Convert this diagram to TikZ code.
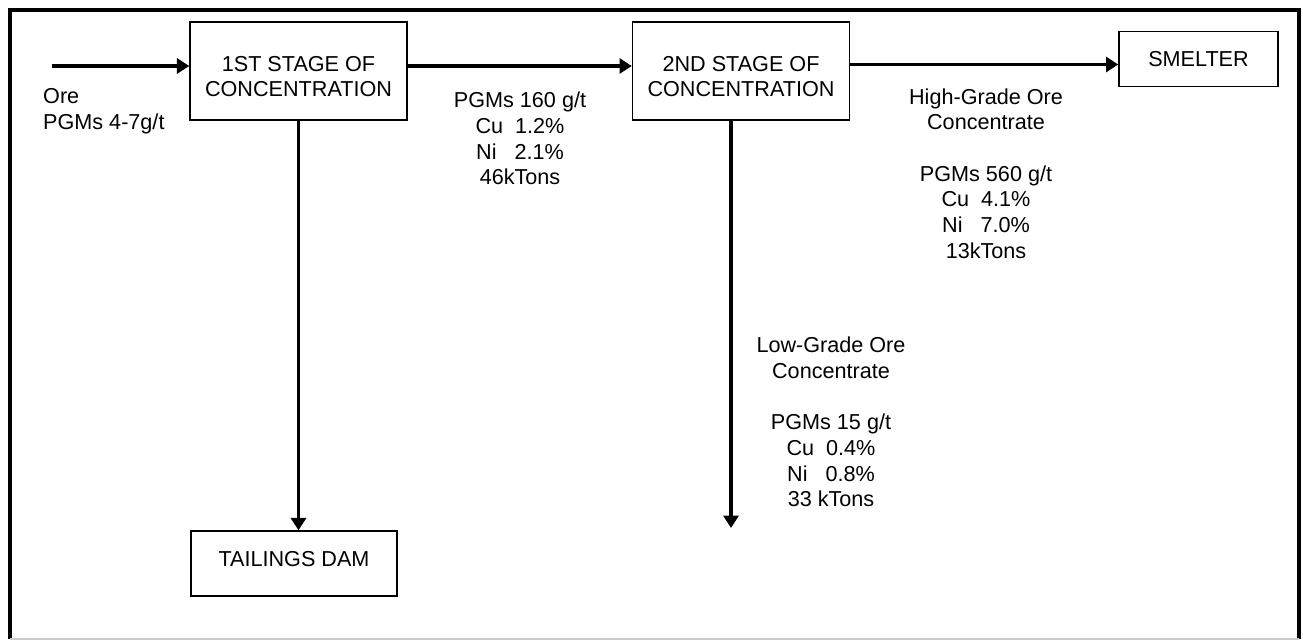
\documentclass[tikz,border=0pt]{standalone}
\usepackage{fontspec}
\setmainfont{Liberation Sans}
\usetikzlibrary{positioning, arrows.meta}
\tikzset {
    >={Triangle[length=7pt, width=8.5pt]},
    node distance=8.85cm,
    every node/.style={font=\fontsize{12.3pt}{14.6pt}\selectfont},
    stage/.style={draw, line width=0.8pt, align=center, minimum width=4.34cm, minimum height=1.96cm},
    flow/.style={->, line width=2pt},
    info/.style={align=center}
}

\begin{document}
\begin{tikzpicture}
    \useasboundingbox (0,0) rectangle (26.06,-12.82);
    \draw[line width=2pt] (0.2,-12.78) -- (0.2,-0.2) -- (25.98,-0.2) -- (25.98,-12.78);
    \draw[line width=1pt, gray!40] (0.2,-12.78) -- (25.98,-12.78);

    \node[stage, text height=29.7pt] (c1) at (5.97,-1.42) {1ST STAGE OF\\CONCENTRATION};
    \node[stage, text height=29.7pt, right of=c1] (c2) {2ND STAGE OF\\CONCENTRATION};
    \node[stage, right of=c2, node distance=9.15cm, yshift=0.24cm, minimum width=3.18cm, minimum height=1.1cm] (sm) {SMELTER};
    \node[stage, below of=c1, node distance=9.85cm, xshift=-0.09cm, minimum width=4.12cm, minimum height=1.3cm, text depth=5.7pt] (td) {TAILINGS DAM};

    \coordinate (ore) at (1.04,-1.32);
    \coordinate[above=0.1cm of c1.east] (c1out);
    \coordinate[below=0.11cm of sm.west] (smin);
    \coordinate (low) at (14.62,-10.56);

    \draw[flow] (ore) -- (ore -| c1.west);
    \draw[flow] (c1out) -- (c1out -| c2.west);
    \draw[flow] (c2.east |- smin) -- (smin);
    \draw[flow] (c1.south) -- (c1.south |- td.north);
    \draw[flow] (low |- c2.south) -- (low);

    \node[anchor=west, align=left] (orelbl) at (0.74,-2.23) {Ore\\PGMs 4-7g/t};
    \node[info] (mid) at (10.4,-2.77) {PGMs 160 g/t\\Cu\ \ 1.2\%\\Ni\ \ \ 2.1\%\\46kTons};
    \node[info] (high) at (19.72,-3.47) {High-Grade Ore\\Concentrate\\[14.6pt]PGMs 560 g/t\\Cu\ \ 4.1\%\\Ni\ \ \ 7.0\%\\13kTons};
    \node[info] (lowlbl) at (16.62,-8.44) {Low-Grade Ore\\Concentrate\\[14.6pt]PGMs 15 g/t\\Cu\ \ 0.4\%\\Ni\ \ \ 0.8\%\\33 kTons};
\end{tikzpicture}
\end{document}
